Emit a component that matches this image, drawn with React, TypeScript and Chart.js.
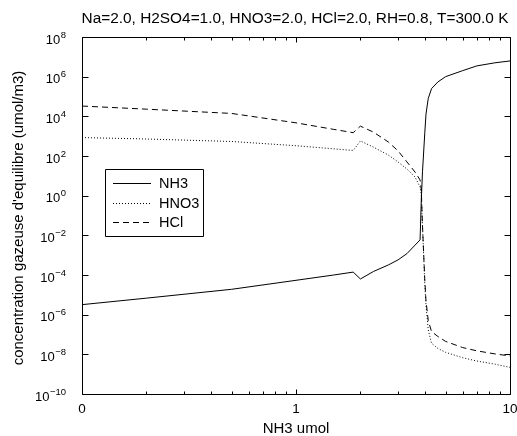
import { useEffect, useRef } from 'react';
import { Chart, registerables } from 'chart.js';

Chart.register(...registerables);

const FONT = '"Liberation Sans", Arial, Helvetica, sans-serif';

const TITLE = 'Na=2.0, H2SO4=1.0, HNO3=2.0, HCl=2.0, RH=0.8, T=300.0 K';
const X_TITLE = 'NH3 umol';
const Y_TITLE = "concentration gazeuse d'equilibre (umol/m3)";

// NH3 amount (umol), log axis
const X_VALUES = [0.1, 0.2, 0.5, 1.0, 1.5, 1.85, 2.0, 2.3, 2.7, 3.0, 3.3, 3.6, 3.8, 3.85, 3.9, 4.0, 4.05, 4.15, 4.3, 4.6, 5.0, 6.0, 7.0, 8.5, 10];

const NH3 = [3.2e-6, 6.8e-6, 1.9e-5, 5.4e-5, 1.0e-4, 1.4e-4, 6.3e-5, 1.5e-4, 3.2e-4, 5.8e-4, 1.2e-3, 3.2e-3, 5.9e-3, 0.6, 16, 1.6e3, 1.3e4, 8e4, 2.5e5, 5.4e5, 1e6, 2e6, 3.5e6, 5e6, 6.2e6];
const HNO3 = [850, 720, 540, 330, 230, 190, 575, 280, 112, 50, 22, 8.7, 2.75, 1, 0.03, 3e-5, 3e-6, 1.7e-7, 3.6e-8, 2e-8, 1.26e-8, 6.8e-9, 4.6e-9, 3.2e-9, 2.2e-9];
const HCL = [3.3e4, 2.3e4, 1.4e4, 4.7e3, 2.2e3, 1.5e3, 3.2e3, 1.6e3, 510, 180, 50, 15.5, 6.2, 2, 0.03, 5e-5, 5e-6, 5e-7, 1.4e-7, 8e-8, 4.5e-8, 2.2e-8, 1.5e-8, 1.05e-8, 8.3e-9];

const SERIES_NAMES = ['NH3', 'HNO3', 'HCl'];
const SERIES_DASH = [[], [1, 2], [6, 4]];

const X_MIN = 0.1;
const X_MAX = 10;
const Y_MIN = 1e-10;
const Y_MAX = 1e8;

const X_MAJOR_TICKS = [0.1, 1, 10];
const X_MAJOR_LABELS = ['0', '1', '10'];
const X_MINOR_TICKS = [0.2, 0.3, 0.4, 0.5, 0.6, 0.7, 0.8, 0.9, 2, 3, 4, 5, 6, 7, 8, 9];
const Y_TICK_EXPONENTS = [-10, -8, -6, -4, -2, 0, 2, 4, 6, 8];

const framePlugin = {
  id: 'gnuplotFrame',
  afterDatasetsDraw(chart: any) {
    const ctx = chart.ctx as CanvasRenderingContext2D;
    const { left, right, top, bottom } = chart.chartArea;
    const xs = chart.scales.x;
    const ys = chart.scales.y;
    const L = Math.round(left) + 0.5;
    const R = Math.round(right) + 0.5;
    const T = Math.round(top) + 0.5;
    const B = Math.round(bottom) + 0.5;
    ctx.save();
    ctx.strokeStyle = '#000';
    ctx.lineWidth = 1;
    ctx.setLineDash([]);
    ctx.beginPath();
    ctx.rect(L, T, R - L, B - T);
    const xTick = (v: number, len: number) => {
      const p = Math.round(xs.getPixelForValue(v)) + 0.5;
      ctx.moveTo(p, B);
      ctx.lineTo(p, B - len);
      ctx.moveTo(p, T);
      ctx.lineTo(p, T + len);
    };
    X_MAJOR_TICKS.forEach((v) => xTick(v, 5));
    X_MINOR_TICKS.forEach((v) => xTick(v, 3));
    Y_TICK_EXPONENTS.forEach((e) => {
      const p = Math.round(ys.getPixelForValue(Math.pow(10, e))) + 0.5;
      ctx.moveTo(L, p);
      ctx.lineTo(L + 6, p);
      ctx.moveTo(R, p);
      ctx.lineTo(R - 6, p);
    });
    ctx.stroke();

    ctx.fillStyle = '#000';
    ctx.font = `13.5px ${FONT}`;
    ctx.textAlign = 'center';
    ctx.textBaseline = 'alphabetic';
    X_MAJOR_TICKS.forEach((v, i) => {
      const p = xs.getPixelForValue(v);
      ctx.fillText(X_MAJOR_LABELS[i], p, 413);
    });
    const labelRight = 66;
    Y_TICK_EXPONENTS.forEach((e) => {
      const p = ys.getPixelForValue(Math.pow(10, e));
      const expText = e < 0 ? '\u2212' + String(-e) : String(e);
      ctx.font = `9.5px ${FONT}`;
      const ew = ctx.measureText(expText).width;
      ctx.textAlign = 'left';
      ctx.fillText(expText, labelRight - ew, p + 0.5);
      ctx.font = `13px ${FONT}`;
      ctx.textAlign = 'right';
      ctx.fillText('10', labelRight - ew - 0.5, p + 6.5);
    });
    ctx.textAlign = 'center';
    ctx.font = `15.4px ${FONT}`;
    ctx.fillText(TITLE, 295, 23);
    ctx.font = `15px ${FONT}`;
    ctx.fillText(X_TITLE, (left + right) / 2, 433);
    ctx.save();
    ctx.translate(19, 218);
    ctx.rotate(-Math.PI / 2);
    ctx.textBaseline = 'middle';
    ctx.fillText(Y_TITLE, 0, 0);
    ctx.restore();

    // legend
    ctx.beginPath();
    ctx.rect(105.5, 169.5, 98, 67);
    ctx.stroke();
    const rows = [183, 203, 222];
    ctx.font = `14.5px ${FONT}`;
    SERIES_NAMES.forEach((name, i) => {
      const y = rows[i] + 0.5;
      ctx.beginPath();
      ctx.setLineDash(SERIES_DASH[i]);
      ctx.moveTo(113, y);
      ctx.lineTo(151, y);
      ctx.stroke();
      ctx.setLineDash([]);
      ctx.textAlign = 'left';
      ctx.textBaseline = 'middle';
      ctx.fillText(name, 159, rows[i] + 1);
    });
    ctx.restore();
  },
};

export default function App() {
  const ref = useRef<HTMLCanvasElement>(null);
  useEffect(() => {
    if (!ref.current) return;
    const seriesValues = [NH3, HNO3, HCL];
    const chart = new Chart(ref.current, {
      type: 'line',
      data: {
        datasets: seriesValues.map((vals, i) => ({
          label: SERIES_NAMES[i],
          data: X_VALUES.map((x, j) => ({ x, y: vals[j] })),
          borderColor: '#000',
          borderWidth: 1,
          borderDash: SERIES_DASH[i],
          pointRadius: 0,
          tension: 0,
          fill: false,
        })),
      },
      options: {
        animation: false,
        responsive: false,
        devicePixelRatio: 1,
        layout: { padding: { left: 82, right: 7, top: 37, bottom: 42 } },
        plugins: { legend: { display: false }, tooltip: { enabled: false } },
        scales: {
          x: { type: 'logarithmic', min: X_MIN, max: X_MAX, display: false },
          y: { type: 'logarithmic', min: Y_MIN, max: Y_MAX, display: false },
        },
      },
      plugins: [framePlugin],
    });
    return () => chart.destroy();
  }, []);
  return (
    <div style={{ position: 'fixed', left: 0, top: 0, width: 517, height: 436, background: '#fff' }}>
      <canvas ref={ref} width={517} height={436} style={{ width: 517, height: 436, display: 'block' }} />
    </div>
  );
}
